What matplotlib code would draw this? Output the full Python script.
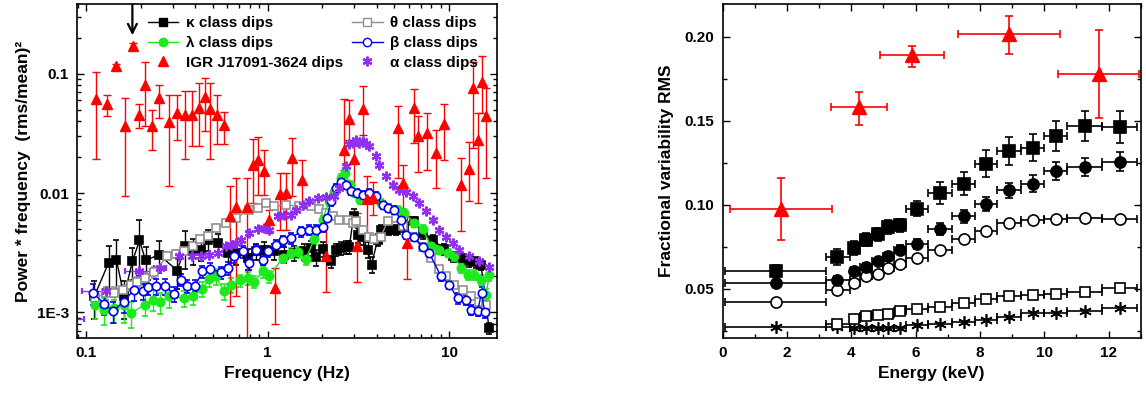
import numpy as np
import matplotlib
matplotlib.use("Agg")
import matplotlib.pyplot as plt
from matplotlib.lines import Line2D
from matplotlib.ticker import FixedLocator, FixedFormatter, LogLocator, NullFormatter, MultipleLocator

plt.rcParams['font.family'] = ['Liberation Sans', 'DejaVu Sans']
plt.rcParams['font.weight'] = 'bold'
plt.rcParams['axes.labelweight'] = 'bold'

# ---- left panel: power * frequency spectra ----
kap_f = [0.111, 0.133, 0.147, 0.162, 0.180, 0.197, 0.213, 0.252, 0.318, 0.353,
         0.386, 0.429, 0.472, 0.530, 0.602, 0.669, 0.776, 0.863, 0.959, 1.088,
         1.235, 1.403, 1.592, 1.733, 1.842, 2.008, 2.234, 2.380, 2.536, 2.70,
         2.82, 2.98, 3.16, 3.34, 3.557, 3.74, 4.04, 4.21, 4.68, 5.10,
         5.67, 6.43, 7.15, 8.12, 9.41, 10.45, 11.63, 12.9, 14.1, 15.0,
         16.6]
kap_p = [0.00136, 0.00259, 0.00276, 0.00136, 0.00267, 0.00400, 0.00272, 0.00304, 0.00224, 0.00357,
         0.00330, 0.00335, 0.00406, 0.00381, 0.00314, 0.00314, 0.00285, 0.00325, 0.00335, 0.00325,
         0.00304, 0.00314, 0.00325, 0.00346, 0.00290, 0.00339, 0.00267, 0.00335, 0.00346, 0.00352,
         0.00352, 0.00645, 0.00447, 0.00432, 0.00335, 0.00251, 0.00406, 0.00492, 0.00492, 0.00492,
         0.00525, 0.00578, 0.00461, 0.00406, 0.00339, 0.00294, 0.00285, 0.00267, 0.00262, 0.00251,
         0.000736]
kap_rel = [0.35, 0.4, 0.45, 0.35, 0.3, 0.5, 0.3, 0.3, 0.3, 0.35,
           0.25, 0.2, 0.2, 0.2, 0.2, 0.2, 0.2, 0.15, 0.15, 0.15,
           0.15, 0.15, 0.15, 0.15, 0.15, 0.15, 0.12, 0.12, 0.12, 0.12,
           0.12, 0.15, 0.15, 0.15, 0.15, 0.15, 0.12, 0.1, 0.1, 0.1,
           0.1, 0.1, 0.1, 0.1, 0.1, 0.1, 0.1, 0.1, 0.1, 0.1,
           0.1]

th_f = [0.112, 0.129, 0.143, 0.159, 0.177, 0.192, 0.211, 0.237, 0.281, 0.313,
        0.347, 0.386, 0.425, 0.467, 0.519, 0.590, 0.669, 0.792, 0.881, 0.979,
        1.088, 1.262, 1.495, 1.733, 1.926, 2.096, 2.28, 2.48, 2.76, 2.94,
        3.07, 3.34, 3.63, 3.87, 4.21, 4.585, 5.10, 5.55, 6.165, 7.15,
        7.95, 8.83, 9.62, 10.69, 11.88, 13.21, 14.68, 15.97]
th_p = [0.00131, 0.00145, 0.00145, 0.00155, 0.00170, 0.00178, 0.00193, 0.00216, 0.00298, 0.00310,
        0.00324, 0.00357, 0.00411, 0.00438, 0.00509, 0.00560, 0.00617, 0.00725, 0.00748, 0.00824,
        0.00773, 0.00798, 0.00773, 0.00773, 0.00734, 0.00679, 0.00637, 0.00597, 0.00590, 0.0056,
        0.00578, 0.00492, 0.00432, 0.00411, 0.00432, 0.00578, 0.00617, 0.00525, 0.00432, 0.00352,
        0.00285, 0.00231, 0.00200, 0.00170, 0.00155, 0.00136, 0.00123, 0.00116]
th_rel = [0.15, 0.12, 0.12, 0.1, 0.1, 0.1, 0.1, 0.1, 0.08, 0.08,
          0.06, 0.06, 0.06, 0.06, 0.06, 0.06, 0.06, 0.06, 0.06, 0.06,
          0.05, 0.05, 0.05, 0.05, 0.05, 0.05, 0.05, 0.05, 0.05, 0.05,
          0.05, 0.05, 0.05, 0.05, 0.05, 0.05, 0.05, 0.05, 0.05, 0.05,
          0.05, 0.05, 0.05, 0.05, 0.05, 0.05, 0.05, 0.05]

lam_f = [0.112, 0.126, 0.143, 0.162, 0.177, 0.211, 0.233, 0.256, 0.288, 0.347,
         0.386, 0.438, 0.477, 0.519, 0.577, 0.628, 0.707, 0.776, 0.845, 0.939,
         1.021, 1.21, 1.344, 1.463, 1.626, 1.808, 2.008, 2.186, 2.33, 2.536,
         2.666, 2.85, 3.03, 3.24, 3.48, 3.79, 4.21, 4.68, 5.2, 5.67,
         6.43, 7.15, 7.95, 8.83, 9.82, 10.69, 11.63, 12.66, 13.78, 14.99,
         15.97, 16.66]
lam_p = [0.00116, 0.00105, 0.00108, 0.00116, 0.000984, 0.00116, 0.00127, 0.00121, 0.00136, 0.00131,
         0.00136, 0.00157, 0.00190, 0.00200, 0.00150, 0.00170, 0.00185, 0.00193, 0.00181, 0.00220,
         0.00200, 0.00285, 0.00314, 0.00318, 0.00279, 0.00411, 0.00597, 0.00851, 0.0103, 0.0134,
         0.0147, 0.0118, 0.0100, 0.0088, 0.0095, 0.0089, 0.00824, 0.00748, 0.00725, 0.00679,
         0.0056, 0.00499, 0.00357, 0.00335, 0.00314, 0.00294, 0.00235, 0.00206, 0.00206, 0.00187,
         0.00140, 0.00206]
lam_rel = [0.25, 0.25, 0.25, 0.3, 0.25, 0.2, 0.2, 0.2, 0.2, 0.15,
           0.15, 0.15, 0.15, 0.15, 0.15, 0.15, 0.12, 0.12, 0.12, 0.12,
           0.12, 0.1, 0.1, 0.1, 0.1, 0.1, 0.08, 0.08, 0.08, 0.08,
           0.08, 0.08, 0.08, 0.08, 0.08, 0.08, 0.08, 0.08, 0.08, 0.08,
           0.08, 0.08, 0.08, 0.08, 0.08, 0.08, 0.1, 0.1, 0.1, 0.1,
           0.12, 0.12]

be_f = [0.109, 0.126, 0.141, 0.161, 0.184, 0.205, 0.220, 0.243, 0.272, 0.306,
        0.333, 0.359, 0.40, 0.438, 0.483, 0.553, 0.602, 0.655, 0.729, 0.792,
        0.863, 0.939, 1.0, 1.111, 1.21, 1.344, 1.526, 1.70, 1.846, 2.008,
        2.12, 2.234, 2.38, 2.536, 2.70, 2.88, 3.10, 3.34, 3.63, 3.96,
        4.30, 4.585, 4.99, 5.43, 5.79, 6.43, 7.15, 7.78, 9.02, 10.0,
        11.15, 12.4, 13.21, 14.37, 15.1, 15.7]
be_p = [0.00145, 0.00118, 0.00102, 0.00123, 0.00155, 0.00150, 0.00163, 0.00165, 0.00165, 0.00143,
        0.00187, 0.00165, 0.00167, 0.00220, 0.00230, 0.00216, 0.00235, 0.00294, 0.00324, 0.00259,
        0.00335, 0.00276, 0.00324, 0.00368, 0.00400, 0.00419, 0.00476, 0.00492, 0.00486, 0.00519,
        0.00617, 0.00851, 0.0110, 0.0125, 0.0117, 0.0105, 0.0100, 0.0097, 0.0100, 0.00938,
        0.00798, 0.00748, 0.00725, 0.00597, 0.00447, 0.00432, 0.00352, 0.00314, 0.00200, 0.00170,
        0.00131, 0.00127, 0.00105, 0.00103, 0.00145, 0.00101]
be_rel = [0.2, 0.2, 0.2, 0.2, 0.2, 0.15, 0.15, 0.15, 0.15, 0.15,
          0.12, 0.12, 0.12, 0.12, 0.12, 0.12, 0.12, 0.12, 0.12, 0.12,
          0.1, 0.1, 0.1, 0.1, 0.1, 0.1, 0.1, 0.1, 0.1, 0.1,
          0.08, 0.08, 0.08, 0.08, 0.08, 0.08, 0.08, 0.08, 0.08, 0.08,
          0.08, 0.08, 0.08, 0.08, 0.08, 0.08, 0.08, 0.08, 0.08, 0.08,
          0.1, 0.1, 0.1, 0.1, 0.12, 0.12]

alp_f = [0.085, 0.128, 0.195, 0.257, 0.325, 0.384, 0.430, 0.477, 0.53, 0.59,
         0.628, 0.669, 0.713, 0.792, 0.881, 0.959, 1.021, 1.135, 1.235, 1.344,
         1.43, 1.559, 1.696, 1.886, 2.096, 2.33, 2.48, 2.70, 2.82, 2.94,
         3.07, 3.20, 3.34, 3.47, 3.63, 3.96, 4.13, 4.49, 4.88, 5.32,
         5.79, 6.30, 6.85, 7.46, 8.12, 8.83, 9.62, 10.46, 11.39, 12.93,
         14.68, 16.66]
alp_p = [0.00088, 0.0015, 0.0022, 0.00235, 0.00294, 0.00294, 0.00294, 0.00304, 0.00314, 0.00357,
         0.00368, 0.00381, 0.00406, 0.00461, 0.00499, 0.00509, 0.00492, 0.00637, 0.00658, 0.00658,
         0.00725, 0.00798, 0.00851, 0.00908, 0.00926, 0.00938, 0.0110, 0.0168, 0.0259, 0.0263,
         0.0280, 0.0263, 0.0271, 0.0259, 0.0246, 0.0203, 0.0173, 0.0138, 0.0118, 0.0107,
         0.0103, 0.00938, 0.00824, 0.00702, 0.00597, 0.00492, 0.00432, 0.00381, 0.00335, 0.00294,
         0.00267, 0.00239]
alp_dx = [0.012, 0.033, 0.031, 0.02, 0, 0, 0, 0, 0, 0,
          0, 0, 0, 0, 0, 0, 0, 0, 0, 0,
          0, 0, 0, 0, 0, 0, 0, 0, 0, 0,
          0, 0, 0, 0, 0, 0, 0, 0, 0, 0,
          0, 0, 0, 0, 0, 0, 0, 0, 0, 0,
          0, 0]

igr_f = [0.1128, 0.130, 0.146, 0.1637, 0.1804, 0.1947, 0.211, 0.2296, 0.253, 0.285,
         0.319, 0.350, 0.383, 0.420, 0.452, 0.483, 0.526, 0.572, 0.622, 0.672,
         0.769, 0.827, 0.888, 0.958, 1.021, 1.097, 1.174, 1.262, 1.356, 1.546,
         2.096, 2.645, 2.82, 2.978, 3.13, 3.34, 3.55, 3.79, 5.2, 5.54,
         5.85, 6.43, 6.76, 7.6, 8.44, 9.41, 11.64, 12.93, 13.5, 14.35,
         15.1, 15.96]
igr_p = [0.0615, 0.0562, 0.1156, 0.0362, 0.172, 0.0454, 0.081, 0.0367, 0.0627, 0.0392,
         0.0469, 0.0454, 0.0454, 0.0516, 0.0638, 0.0507, 0.0454, 0.0374, 0.00645, 0.00763,
         0.00763, 0.0173, 0.0191, 0.0152, 0.0059, 0.0016, 0.00987, 0.0101, 0.0197, 0.0128,
         0.00298, 0.0228, 0.0418, 0.0193, 0.00357, 0.0507, 0.0089, 0.0091, 0.035, 0.0121,
         0.00381, 0.0516, 0.0299, 0.0318, 0.0219, 0.0382, 0.0117, 0.0159, 0.076, 0.028,
         0.0848, 0.0446]
igr_hi = [0.1028, 0.0668, 0.120, 0.0627, 0.180, 0.056, 0.125, 0.050, 0.081, 0.0668,
          0.0668, 0.0713, 0.0713, 0.0838, 0.0923, 0.0838, 0.0668, 0.0475, 0.0114, 0.0134,
          0.0134, 0.0284, 0.0295, 0.0228, 0.00725, 0.00235, 0.0147, 0.0147, 0.0289, 0.0191,
          0.00597, 0.0615, 0.0606, 0.0249, 0.00679, 0.0785, 0.0138, 0.0125, 0.0533, 0.0173,
          0.00637, 0.0745, 0.044, 0.047, 0.0336, 0.056, 0.0197, 0.0266, 0.127, 0.0469,
          0.142, 0.076]
igr_lo = [0.0193, 0.044, 0.111, 0.0095, 0.164, 0.035, 0.0367, 0.0228, 0.0426, 0.0114,
          0.028, 0.0193, 0.0247, 0.0247, 0.0329, 0.0193, 0.026, 0.026, 0.00113, 0.00138,
          0.0001, 0.00824, 0.0097, 0.0097, 0.00461, 0.0008, 0.00492, 0.00492, 0.0094, 0.00748,
          0.00147, 0.0157, 0.028, 0.0107, 0.00178, 0.0308, 0.0041, 0.0066, 0.0134, 0.00658,
          0.0019, 0.0262, 0.0149, 0.0155, 0.011, 0.0188, 0.00476, 0.0085, 0.0239, 0.0083,
          0.0469, 0.0134]

# ---- right panel: fractional rms vs energy ----
en = [1.66, 3.56, 4.09, 4.46, 4.82, 5.15, 5.5, 6.04, 6.77, 7.49, 8.19, 8.90, 9.64, 10.37, 11.28, 12.35]
en_lo = [0.08, 3.2, 3.95, 4.28, 4.64, 4.99, 5.33, 5.69, 6.39, 7.14, 7.85, 8.54, 9.27, 10.0, 10.72, 11.79]
en_hi = [3.2, 3.95, 4.28, 4.64, 4.99, 5.33, 5.69, 6.39, 7.14, 7.85, 8.54, 9.27, 10.0, 10.72, 11.79, 12.9]
rms_sq = [0.0603, 0.0689, 0.0742, 0.0792, 0.0824, 0.0867, 0.0877, 0.0977, 0.107, 0.1126,
          0.1245, 0.1319, 0.134, 0.1408, 0.1468, 0.1462]
rms_sq_err = [0.0035, 0.0047, 0.004, 0.004, 0.004, 0.004, 0.004, 0.0046, 0.0067, 0.007,
              0.008, 0.0085, 0.008, 0.009, 0.009, 0.0093]
rms_ci = [0.0534, 0.0554, 0.0605, 0.0629, 0.0663, 0.0693, 0.0732, 0.0768, 0.0854, 0.0931,
          0.1003, 0.1086, 0.1126, 0.1201, 0.1225, 0.1257]
rms_ci_err = [0.002, 0.0022, 0.0022, 0.0022, 0.0022, 0.0025, 0.0025, 0.003, 0.0037, 0.004,
              0.004, 0.0044, 0.0053, 0.0053, 0.0055, 0.0057]
rms_oc = [0.0420, 0.049, 0.0536, 0.0573, 0.0589, 0.0625, 0.0649, 0.0683, 0.0728, 0.0798,
          0.0842, 0.0893, 0.0909, 0.0917, 0.0919, 0.0913]
rms_os = [0.0292, 0.0317, 0.0335, 0.034, 0.035, 0.0365, 0.0378, 0.039, 0.0414, 0.044,
          0.0458, 0.046, 0.0466, 0.048, 0.0503]   # from 2nd energy bin on
rms_st = [0.0271, 0.0271, 0.0268, 0.0268, 0.0268, 0.0268, 0.0268, 0.0281, 0.0287, 0.030,
          0.0315, 0.0331, 0.0355, 0.0355, 0.0367, 0.0387]
igr_en = [1.82, 4.25, 5.88, 8.9, 11.7]
igr_en_lo = [0.24, 3.37, 4.88, 7.33, 10.44]
igr_en_hi = [3.39, 5.1, 6.88, 10.48, 12.96]
igr_rms = [0.0973, 0.1579, 0.189, 0.2016, 0.178]
igr_rms_lo = [0.0788, 0.1473, 0.1821, 0.1895, 0.1517]
igr_rms_hi = [0.116, 0.1672, 0.1944, 0.2125, 0.204]

fig = plt.figure(figsize=(11.46, 3.97), dpi=100)
ax1 = fig.add_axes([77.3 / 1146, 59 / 397, 419.4 / 1146, 334 / 397])
ax2 = fig.add_axes([722.7 / 1146, 59 / 397, 418 / 1146, 334 / 397])

ms = 6
cap = 2.5


def spec(ax, f, p, rel, color, marker, filled, lw=1.0):
    p = np.array(p)
    err = p * np.array(rel)
    fc = color if filled else 'white'
    ax.errorbar(f, p, yerr=err, color=color, marker=marker, ms=ms, mfc=fc, mec=color,
                mew=1.2, lw=lw, elinewidth=1.0, capsize=cap, capthick=1.0)


spec(ax1, kap_f, kap_p, kap_rel, 'black', 's', True)
spec(ax1, th_f, th_p, th_rel, '#909090', 's', False)
spec(ax1, lam_f, lam_p, lam_rel, '#1ee81e', 'o', True)
spec(ax1, be_f, be_p, be_rel, '#0000ee', 'o', False)
ax1.errorbar(alp_f, alp_p, xerr=alp_dx, color='#9030ee', marker=(6, 2, 0), ms=7, mew=1.6,
             ls='none', elinewidth=1.0, capsize=cap)
igr_p_a = np.array(igr_p)
ax1.errorbar(igr_f, igr_p, yerr=[igr_p_a - np.array(igr_lo), np.array(igr_hi) - igr_p_a],
             color='red', marker='^', ms=7, ls='none', elinewidth=1.0, capsize=3, capthick=1.0)

ax1.annotate('', xy=(0.18, 0.2), xytext=(0.18, 0.40),
             arrowprops=dict(arrowstyle='->', lw=1.6, color='black', mutation_scale=16))

ax1.set_xscale('log')
ax1.set_yscale('log')
ax1.set_xlim(0.0895, 18.3)
ax1.set_ylim(6.08e-4, 0.386)
ax1.xaxis.set_major_locator(FixedLocator([0.1, 1, 10]))
ax1.xaxis.set_major_formatter(FixedFormatter(['0.1', '1', '10']))
ax1.yaxis.set_major_locator(FixedLocator([1e-3, 1e-2, 1e-1]))
ax1.yaxis.set_major_formatter(FixedFormatter(['1E-3', '0.01', '0.1']))
for axis in (ax1.xaxis, ax1.yaxis):
    axis.set_minor_locator(LogLocator(base=10, subs=np.arange(2, 10)))
    axis.set_minor_formatter(NullFormatter())
ax1.set_xlabel('Frequency (Hz)', fontsize=12.5, labelpad=4)
ax1.set_ylabel('Power * frequency  (rms/mean)²', fontsize=12.5, labelpad=4)

handles = [
    Line2D([], [], color='black', marker='s', ms=ms, lw=1.0),
    Line2D([], [], color='#1ee81e', marker='o', ms=ms, lw=1.0),
    Line2D([], [], color='red', marker='^', ms=7, ls='none'),
    Line2D([], [], color='#909090', marker='s', ms=ms, mfc='white', lw=1.0),
    Line2D([], [], color='#0000ee', marker='o', ms=ms, mfc='white', lw=1.0),
    Line2D([], [], color='#9030ee', marker=(6, 2, 0), ms=7, mew=1.6, ls='none'),
]
labels = ['κ class dips', 'λ class dips', 'IGR J17091-3624 dips',
          'θ class dips', 'β class dips', 'α class dips']
ax1.legend(handles, labels, ncol=2, loc='upper left', bbox_to_anchor=(0.135, 1.005),
           frameon=False, fontsize=11, handlelength=2.0, handletextpad=0.5,
           columnspacing=0.6, labelspacing=0.38)

# right panel
en_a = np.array(en)
xerr_all = [en_a - np.array(en_lo), np.array(en_hi) - en_a]
kw = dict(color='black', ls='none', elinewidth=1.2, capsize=3, capthick=1.2, mew=1.2)
ax2.errorbar(en, rms_st, xerr=xerr_all, marker=(6, 2, 0), ms=9, **kw)
ax2.errorbar(en[1:], rms_os, xerr=[x[1:] for x in xerr_all], yerr=0.001,
             marker='s', ms=7.5, mfc='white', **kw)
ax2.errorbar(en, rms_oc, xerr=xerr_all, yerr=0.0015, marker='o', ms=8, mfc='white', **kw)
ax2.errorbar(en, rms_ci, xerr=xerr_all, yerr=rms_ci_err, marker='o', ms=8, **kw)
ax2.errorbar(en, rms_sq, xerr=xerr_all, yerr=rms_sq_err, marker='s', ms=8, **kw)
ig = np.array(igr_rms)
ige = np.array(igr_en)
ax2.errorbar(igr_en, igr_rms,
             xerr=[ige - np.array(igr_en_lo), np.array(igr_en_hi) - ige],
             yerr=[ig - np.array(igr_rms_lo), np.array(igr_rms_hi) - ig],
             color='red', marker='^', ms=10, ls='none', elinewidth=1.2, capsize=3, capthick=1.2)

ax2.set_xlim(0, 13)
ax2.set_ylim(0.0206, 0.2195)
ax2.set_xticks(range(0, 13, 2))
ax2.xaxis.set_minor_locator(MultipleLocator(1))
ax2.set_yticks([0.05, 0.10, 0.15, 0.20])
ax2.set_yticklabels(['0.05', '0.10', '0.15', '0.20'])
ax2.yaxis.set_minor_locator(MultipleLocator(0.025))
ax2.set_xlabel('Energy (keV)', fontsize=12.5, labelpad=4)
ax2.set_ylabel('Fractional variability RMS', fontsize=12.5, labelpad=8)

for ax in (ax1, ax2):
    ax.tick_params(which='both', direction='in', top=True, right=True, labelsize=11, pad=6, width=1.0)
    ax.tick_params(which='major', length=5)
    ax.tick_params(which='minor', length=3)
    for s in ax.spines.values():
        s.set_linewidth(1.2)

fig.savefig('out.png', dpi=100)
